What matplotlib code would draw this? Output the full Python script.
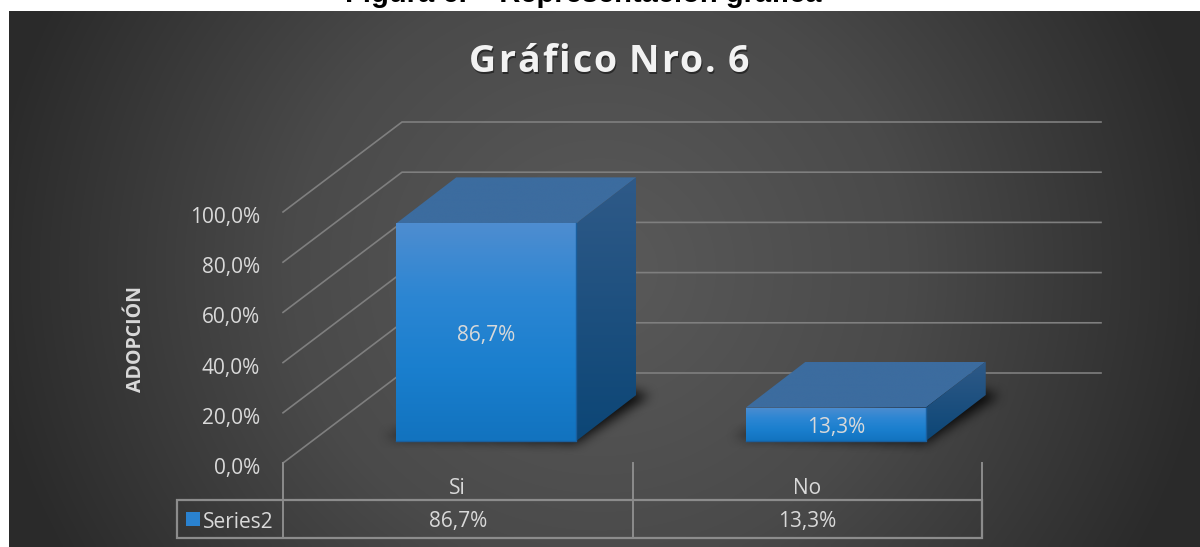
import numpy as np
import matplotlib
matplotlib.use('Agg')
import matplotlib.pyplot as plt
from matplotlib.colors import LinearSegmentedColormap
from matplotlib.patches import Polygon, Rectangle
from matplotlib.path import Path

categories = ['Si', 'No']
values = [86.7, 13.3]
value_labels = ['86,7%', '13,3%']
y_ticks = [0, 20, 40, 60, 80, 100]
y_tick_labels = ['0,0%', '20,0%', '40,0%', '60,0%', '80,0%', '100,0%']
series_name = 'Series2'
y_title = 'ADOPCIÓN'
chart_title = 'Gráfico Nro. 6'
caption = 'Figura 6. – Representación gráfica'

FONT = 'Open Sans'
TXT = '#d9d9d9'
GRID = '#7f7f7f'
TABLE = '#8c8c8c'
FS = 15

# geometry of the 3d box, in pixels
X0, X1 = 283, 982
Y0 = 463
PX_PER_UNIT = 2.51
WALL_DX, WALL_DY = 119, -90
BAR_W, BAR_DX, BAR_DY = 180, 60, -46
BAR_Y = 441
BAR_OFFSET = -61.5  # front face left edge, relative to category centre

fig = plt.figure(figsize=(12, 5.47), dpi=100)
ax = fig.add_axes([0, 0, 1, 1])
ax.set_xlim(0, 1200)
ax.set_ylim(547, 0)
ax.axis('off')

# dark radial background
bg_cmap = LinearSegmentedColormap.from_list('bg', ['#5a5a5a', '#4a4a4a', '#2a2a2a'])
yy, xx = np.mgrid[11:547:134j, 9:1200:300j]
r = np.sqrt(((xx - 600) / 620) ** 2 + ((yy - 270) / 600) ** 2)
ax.imshow(r, extent=(9, 1200, 547, 11), cmap=bg_cmap, vmin=0, vmax=1,
          aspect='auto', zorder=0, interpolation='bilinear')


def grad_poly(pts, colors, zorder):
    # polygon filled with a vertical gradient
    xs = [p[0] for p in pts]
    ys = [p[1] for p in pts]
    cmap = LinearSegmentedColormap.from_list('g', colors)
    img = np.linspace(0, 1, 128)[:, None]
    im = ax.imshow(img, extent=(min(xs), max(xs), max(ys), min(ys)), cmap=cmap,
                   aspect='auto', zorder=zorder, vmin=0, vmax=1)
    clip = Polygon(pts, transform=ax.transData, fc='none', ec='none')
    ax.add_patch(clip)
    im.set_clip_path(clip)


def soft_shadow(pts, zorder, blur=6, strength=0.85):
    # polygon mask smoothed by a running mean, drawn as black with alpha
    xs = [p[0] for p in pts]
    ys = [p[1] for p in pts]
    pad = blur * 3
    x_a, x_b = int(min(xs)) - pad, int(max(xs)) + pad
    y_a, y_b = int(min(ys)) - pad, int(max(ys)) + pad
    gy, gx = np.mgrid[y_a:y_b, x_a:x_b]
    cells = np.column_stack([gx.ravel() + 0.5, gy.ravel() + 0.5])
    mask = Path(pts).contains_points(cells).reshape(gx.shape).astype(float)
    kernel = np.ones(2 * blur + 1) / (2 * blur + 1)
    for _ in range(2):
        mask = np.apply_along_axis(np.convolve, 0, mask, kernel, mode='same')
        mask = np.apply_along_axis(np.convolve, 1, mask, kernel, mode='same')
    rgba = np.zeros(mask.shape + (4,))
    rgba[..., 3] = mask * strength
    ax.imshow(rgba, extent=(x_a, x_b, y_b, y_a), aspect='auto', zorder=zorder)


# gridlines on side and back walls
for t, lab in zip(y_ticks, y_tick_labels):
    y = Y0 - t * PX_PER_UNIT
    ax.plot([X0, X0 + WALL_DX, 1101], [y, y + WALL_DY, y + WALL_DY],
            color=GRID, lw=1.2, zorder=1, solid_joinstyle='miter')
    ax.text(260, y + 5.5, lab, ha='right', va='center',
            color=TXT, fontsize=FS, family=FONT, zorder=6)

ax.text(136, 339, y_title, rotation=90, ha='center', va='center', color=TXT,
        fontsize=14, fontweight='bold', family=FONT, zorder=6)

# bars
cat_w = (X1 - X0) / len(categories)
for i, v in enumerate(values):
    cx = X0 + cat_w * (i + 0.5)
    xl = cx + BAR_OFFSET
    xr = xl + BAR_W
    yb = BAR_Y
    yt = BAR_Y - v * PX_PER_UNIT
    soft_shadow([(xl - 12, yb - 4), (xr, yb + 2), (xr + BAR_DX + 14, yb + BAR_DY),
                 (xr + BAR_DX - 10, yb + BAR_DY - 6), (xl, yb - 8)], 2)
    grad_poly([(xl, yt), (xr, yt), (xr + BAR_DX, yt + BAR_DY), (xl + BAR_DX, yt + BAR_DY)],
              ['#3c6c9f', '#3c6c9f'], 3)
    grad_poly([(xr, yb), (xr, yt), (xr + BAR_DX, yt + BAR_DY), (xr + BAR_DX, yb + BAR_DY)],
              ['#2f5a88', '#0c4676'], 3)
    grad_poly([(xl, yt), (xr, yt), (xr, yb), (xl, yb)],
              ['#4e8dd0', '#2c86d3', '#1a7fce', '#1273bf'], 4)
    ax.plot([xl, xr, xr], [yb, yb, yt], color='#1a5f9e', lw=1, zorder=4)
    ty = (yt + yb) / 2 + 3 if v > 20 else yb - 13
    ax.text((xl + xr) / 2, ty, value_labels[i], ha='center', va='center',
            color=TXT, fontsize=FS, family=FONT, zorder=6)

# data table below the plot
table_l, table_t, table_b = 177, 500, 538
for x in [X0 + cat_w * k for k in range(len(categories) + 1)]:
    ax.plot([x, x], [Y0, table_b], color=TABLE, lw=1.4, zorder=2)
ax.add_patch(Rectangle((table_l, table_t), X1 - table_l, table_b - table_t,
                       fc='none', ec=TABLE, lw=1.6, zorder=2))
ax.add_patch(Rectangle((186, 512), 14, 14, fc='#2a82d0', ec='none', zorder=5))
ax.text(203, 522, series_name, ha='left', va='center', color=TXT, fontsize=FS,
        family=FONT, zorder=6)
for i, c in enumerate(categories):
    cx = X0 + cat_w * (i + 0.5)
    ax.text(cx, 488, c, ha='center', va='center', color=TXT, fontsize=FS,
            family=FONT, zorder=6)
    ax.text(cx, 522, value_labels[i], ha='center', va='center', color=TXT,
            fontsize=FS, family=FONT, zorder=6)

# title, spaced letter by letter
fig.canvas.draw()
rend = fig.canvas.get_renderer()
TITLE_FS = 27
widths = []
for ch in chart_title:
    t = ax.text(0, 0, ch if ch != ' ' else 'n', fontsize=TITLE_FS, fontweight='bold', family=FONT)
    widths.append(t.get_window_extent(rend).width if ch != ' ' else 8)
    t.remove()
spacing = 2.0
x = 609 - (sum(widths) + spacing * (len(widths) - 1)) / 2
for ch, w in zip(chart_title, widths):
    if ch != ' ':
        ax.text(x + 1, 74, ch, fontsize=TITLE_FS, fontweight='bold', family=FONT, color='#000000',
                alpha=0.45, ha='left', va='baseline', zorder=5)
        ax.text(x, 72, ch, fontsize=TITLE_FS, fontweight='bold', family=FONT, color='#f2f2f2',
                ha='left', va='baseline', zorder=6)
    x += w + spacing

# caption cut off by the top of the picture
ax.text(583, 1.5, caption, ha='center', va='baseline', fontsize=21, fontweight='bold',
        family='Liberation Sans', color='#000000', zorder=0.5)

ax.set_xlim(0, 1200)
ax.set_ylim(547, 0)
fig.savefig('out.png', dpi=100)
